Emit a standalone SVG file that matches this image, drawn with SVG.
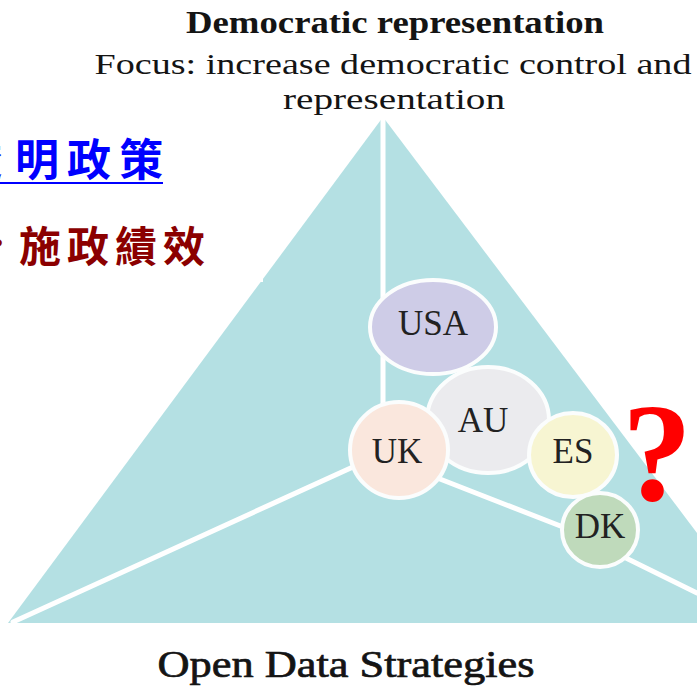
<svg xmlns="http://www.w3.org/2000/svg" width="697" height="693" viewBox="0 0 697 693">
<style>
.serif{font-family:"Liberation Serif","DejaVu Serif",serif;fill:#141414}
.lbl{font-family:"Liberation Serif","DejaVu Serif",serif;font-size:35px;fill:#222;text-anchor:middle}
.node ellipse{stroke:#fbfdfd;stroke-width:4}
.cjk{font-family:"Noto Sans CJK TC","Noto Sans CJK SC",sans-serif;font-weight:700}
</style>
<rect width="697" height="693" fill="#ffffff"/>
<g id="triangle">
<polygon points="383,117 8,623 765,623" fill="#b4e0e3"/>
</g>
<rect x="0" y="120" width="263" height="162" fill="#ffffff"/>
<g id="connectors" fill="none" stroke="#ffffff" stroke-width="5" stroke-linecap="round">
<line x1="383" y1="118" x2="383" y2="420"/>
<line x1="13" y1="622" x2="399" y2="446"/>
<polyline points="399,463 563,527 697,593"/>
</g>
<g id="usa" class="node"><ellipse cx="433" cy="327" rx="63" ry="47" fill="#cecce7"/><text class="lbl" x="433" y="335">USA</text></g>
<g id="au" class="node"><ellipse cx="488" cy="420" rx="61" ry="53" fill="#ebebee"/><text class="lbl" x="483" y="432">AU</text></g>
<g id="uk" class="node"><ellipse cx="399" cy="450" rx="49" ry="48" fill="#fae7dd"/><text class="lbl" x="397" y="463">UK</text></g>
<g id="es" class="node"><ellipse cx="573" cy="455" rx="44" ry="42" fill="#f7f5d2"/><text class="lbl" x="573" y="463">ES</text></g>
<g id="dk" class="node"><ellipse cx="600" cy="530" rx="38" ry="37" fill="#bfdabb"/><text class="lbl" x="600" y="538">DK</text></g>
<g id="titles">
<text class="serif" x="395" y="33" font-size="31" font-weight="bold" text-anchor="middle" textLength="418" lengthAdjust="spacingAndGlyphs">Democratic representation</text>
<text class="serif" x="393" y="74" font-size="29" text-anchor="middle" textLength="597" lengthAdjust="spacingAndGlyphs">Focus: increase democratic control and</text>
<text class="serif" x="394" y="109" font-size="29" text-anchor="middle" textLength="222" lengthAdjust="spacingAndGlyphs">representation</text>
<text class="serif" x="346" y="677" font-size="38" text-anchor="middle" stroke="#141414" stroke-width="0.7" textLength="377" lengthAdjust="spacingAndGlyphs">Open Data Strategies</text>
</g>
<g id="question">
<text x="657" y="500" font-family="Liberation Serif,serif" font-weight="bold" font-size="140" fill="#ff0000" text-anchor="middle">?</text>
</g>
<g id="chinese">
<text class="cjk" x="-42" y="176" font-size="44" fill="#0000ff">透</text>
<text class="cjk" x="15" y="176" font-size="44" letter-spacing="8" fill="#0000ff">明政策</text>
<line x1="0" y1="183" x2="163" y2="183" stroke="#0000ff" stroke-width="2"/>
<text class="cjk" x="-17" y="254" font-size="30" fill="#8b0000">‧</text>
<text class="cjk" x="19" y="262" font-size="42" letter-spacing="6" fill="#8b0000">施政績效</text>
</g>
</svg>
